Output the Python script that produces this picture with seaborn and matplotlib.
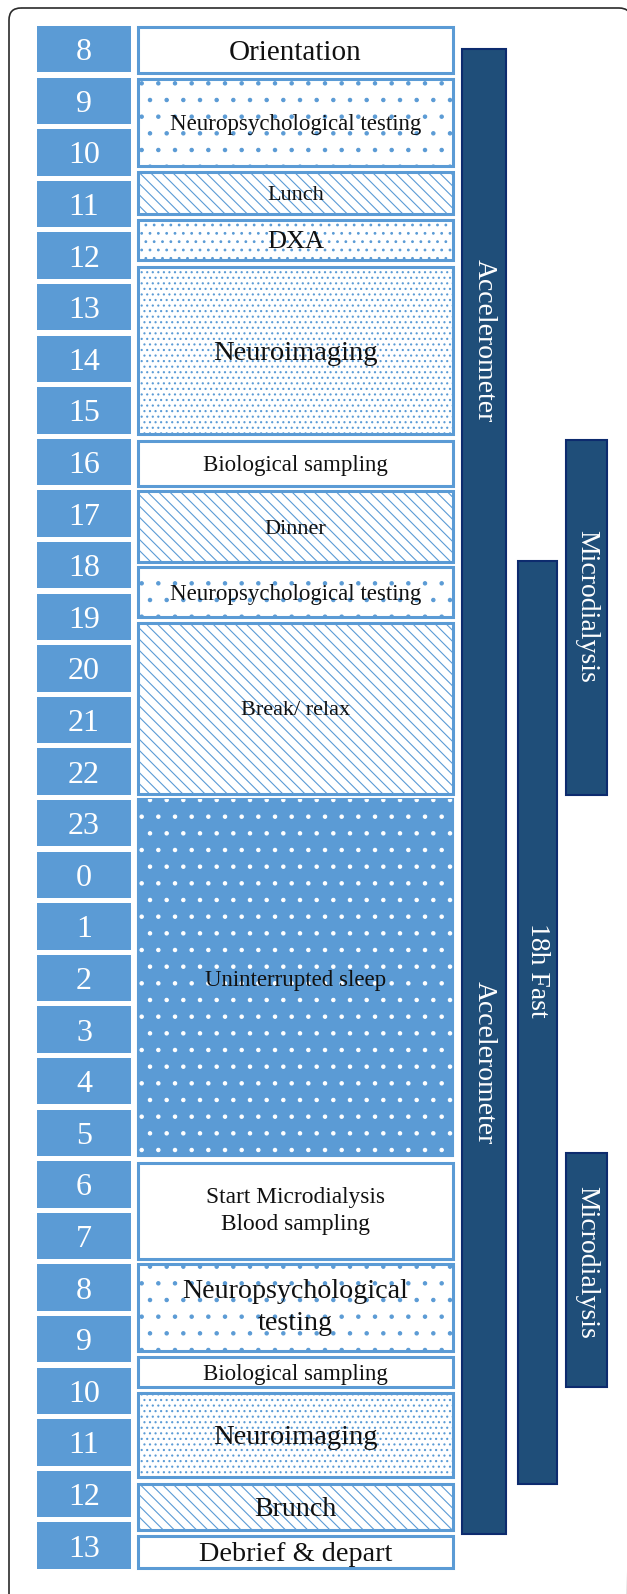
import numpy as np
import matplotlib
matplotlib.use("Agg")
import matplotlib.pyplot as plt
from matplotlib.patches import FancyBboxPatch
import seaborn as sns

# clock hours of the stay (day 2 written as 24+h)
hour_labels = [8, 9, 10, 11, 12, 13, 14, 15, 16, 17, 18, 19, 20, 21, 22, 23,
               0, 1, 2, 3, 4, 5, 6, 7, 8, 9, 10, 11, 12, 13]
hour_starts = list(range(8, 38))

activity_names = ["Orientation", "Neuropsychological testing", "Lunch", "DXA",
                  "Neuroimaging", "Biological sampling", "Dinner",
                  "Neuropsychological testing", "Break/ relax", "Uninterrupted sleep",
                  "Start Microdialysis\nBlood sampling", "Neuropsychological\ntesting",
                  "Biological sampling", "Neuroimaging", "Brunch", "Debrief & depart"]
activity_kind = ["plain", "testing", "meal", "dxa", "imaging", "plain", "meal",
                 "testing", "meal", "sleep", "plain", "testing", "plain",
                 "imaging", "meal", "plain"]
activity_start = [8.02, 9.03, 10.83, 11.76, 12.67, 16.04, 17.01, 18.48, 19.57,
                  22.98, 30.03, 31.99, 33.79, 34.49, 36.25, 37.26]
activity_end = [8.91, 10.71, 11.64, 12.53, 15.91, 16.91, 18.39, 19.45, 22.88,
                29.90, 31.90, 33.68, 34.38, 36.12, 37.15, 37.88]
activity_fontsize = [21, 16.5, 16, 19, 20.5, 16.5, 16, 16.5, 16, 16.5, 16.8, 20.2,
                     16.5, 20.5, 20.2, 20.3]

track_names = ["Accelerometer", "18h Fast", "Microdialysis", "Microdialysis"]
track_column = ["acc", "fast", "micro", "micro"]
track_start = [8.45, 18.37, 16.02, 29.84]
track_end = [37.22, 36.26, 22.90, 34.38]
track_label_at = [[14.1, 28.1], [26.3], [19.25], [31.97]]

# ---- layout (pixels across, hours down)
PX_PER_H = 51.6
Y_TOP = 8 - 26 / PX_PER_H
Y_BOT = 8 + (1594 - 26) / PX_PER_H
hour_col = (37, 94)
act_col = (138, 315)
track_cols = {"acc": (462, 44), "fast": (518, 39), "micro": (566, 41)}

LIGHT = "#5B9BD5"
DARK = "#1F4E79"
DARK_EDGE = "#0D2B6E"
patterns = {"plain": "", "testing": ".", "meal": "\\\\\\", "dxa": "..",
            "imaging": "...", "sleep": "."}

sns.set_theme(style="white")
plt.rcParams["font.family"] = ["Liberation Serif", "DejaVu Serif"]
plt.rcParams["hatch.linewidth"] = 0.8

fig = plt.figure(figsize=(6.27, 15.94), dpi=100)
ax = fig.add_axes([0, 0, 1, 1])
ax.set_xlim(0, 627)
ax.set_ylim(Y_BOT, Y_TOP)
ax.axis("off")

# outer frame (open at the bottom, like the crop)
frame = FancyBboxPatch((9, 8 + (8 - 26) / PX_PER_H), 622, 40,
                       boxstyle="round,pad=0,rounding_size=12",
                       mutation_aspect=1 / PX_PER_H, fc="none", ec="#2b2b2b",
                       lw=1.2, zorder=0)
ax.add_patch(frame)

# hour column
ax.bar(hour_col[0], 0.9, width=hour_col[1], bottom=hour_starts, align="edge",
       color=LIGHT, edgecolor="none", zorder=1)
for h, lab in zip(hour_starts, hour_labels):
    ax.text(hour_col[0] + hour_col[1] / 2, h + 0.45, str(lab), ha="center",
            va="center_baseline", color="white", fontsize=23, zorder=3)

# activities
for name, kind, s, e, fs in zip(activity_names, activity_kind, activity_start,
                                activity_end, activity_fontsize):
    if kind == "sleep":
        ax.bar(act_col[0], e - s, width=act_col[1], bottom=s, align="edge",
               color=LIGHT, edgecolor=LIGHT, lw=1.5, zorder=1)
        ax.bar(act_col[0], e - s, width=act_col[1], bottom=s, align="edge",
               color="none", edgecolor="white", lw=0, hatch=patterns[kind], zorder=2)
    else:
        ax.bar(act_col[0], e - s, width=act_col[1], bottom=s, align="edge",
               color="white", edgecolor=LIGHT, lw=2.2, hatch=patterns[kind], zorder=1)
    va = "center" if "\n" in name else "center_baseline"
    ax.text(act_col[0] + act_col[1] / 2, (s + e) / 2, name, ha="center",
            va=va, color="#111111", fontsize=fs, linespacing=1.4, zorder=3)

# long-running tracks
for name, col, s, e, at in zip(track_names, track_column, track_start, track_end,
                               track_label_at):
    x0, w = track_cols[col]
    ax.bar(x0, e - s, width=w, bottom=s, align="edge", color=DARK,
           edgecolor=DARK_EDGE, lw=1.5, zorder=1)
    for y in at:
        ax.text(x0 + w / 2, y, name, rotation=-90, ha="center", va="center",
                color="white", fontsize=20, zorder=3)

fig.savefig("out.png", dpi=100, facecolor="white")
